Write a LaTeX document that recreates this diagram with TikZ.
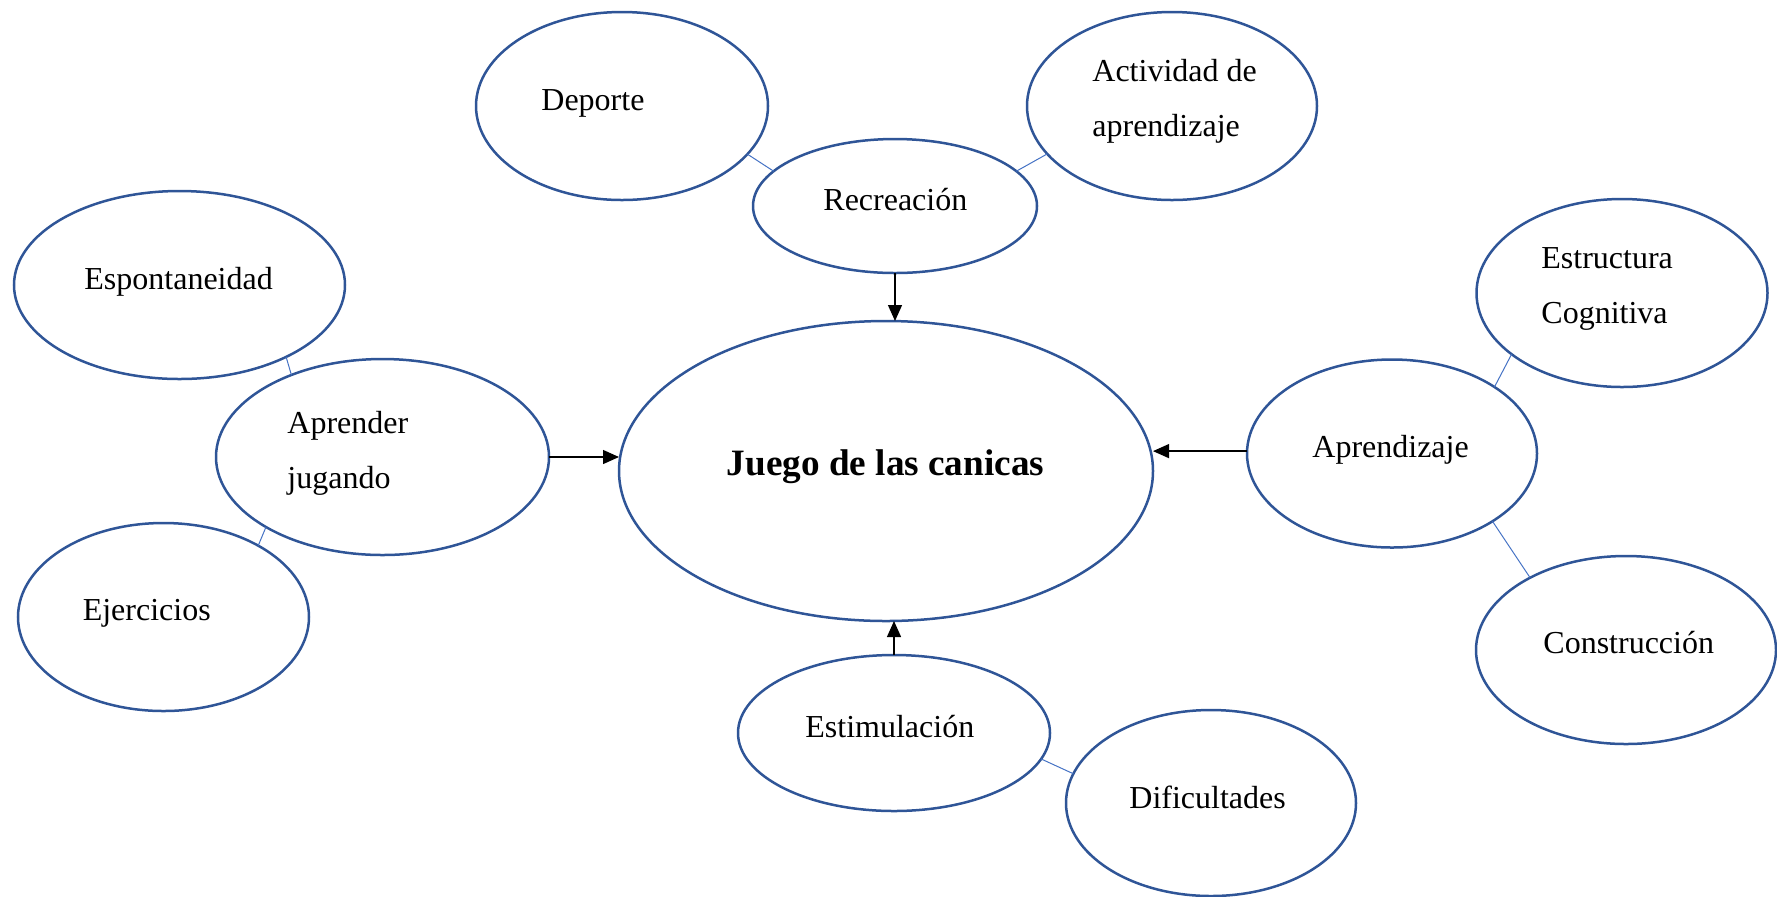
\documentclass[tikz,border=0pt]{standalone}
\usepackage{fontspec}
\setmainfont{Liberation Serif}
\usetikzlibrary{shapes.geometric,arrows.meta}
\definecolor{ellblue}{HTML}{2F5597}
\definecolor{linkblue}{HTML}{4472C4}
\begin{document}
\begin{tikzpicture}[x=0.5pt,y=-0.5pt,
  ell/.style={ellipse,draw=ellblue,line width=1.25pt,inner sep=0pt,outer sep=0pt},
  lbl/.style={anchor=base west,inner sep=0pt,font=\fontsize{16}{27.5}\selectfont},
  link/.style={draw=linkblue,line width=0.5pt},
  arr/.style={draw=black,line width=0.65pt,-{Triangle[length=8pt,width=7pt]}}]
\useasboundingbox (0,0) rectangle (1777,896);
% ellipses
\node[ell,minimum width=146pt,minimum height=94pt] (dep) at (622,106) {};
\node[ell,minimum width=142pt,minimum height=67pt] (rec) at (895,206) {};
\node[ell,minimum width=145pt,minimum height=94pt] (act) at (1172,106) {};
\node[ell,minimum width=165.5pt,minimum height=94pt] (esp) at (179.5,285) {};
\node[ell,minimum width=166.5pt,minimum height=98pt] (apj) at (382.5,457) {};
\node[ell,minimum width=145.5pt,minimum height=94pt] (eje) at (163.5,617) {};
\node[ell,minimum width=267pt,minimum height=150pt] (cen) at (886,471) {};
\node[ell,minimum width=145pt,minimum height=94pt] (apr) at (1392,453.5) {};
\node[ell,minimum width=145.5pt,minimum height=94pt] (estr) at (1622,293) {};
\node[ell,minimum width=150pt,minimum height=94pt] (con) at (1626,650) {};
\node[ell,minimum width=156pt,minimum height=78pt] (estm) at (894,733) {};
\node[ell,minimum width=145pt,minimum height=93pt] (dif) at (1211,803) {};
% labels
\node[lbl] (tdep) at (541,110) {Deporte};
\node[lbl] (trec) at (823,210) {Recreación};
\node[lbl,align=left,anchor=north west] (tact) at (1092,59) {Actividad de\\aprendizaje};
\node[lbl] (tesp) at (84,289) {Espontaneidad};
\node[lbl,align=left,anchor=north west] (tapj) at (287,411) {Aprender\\jugando};
\node[lbl] (teje) at (82.4,620.5) {Ejercicios};
\node[lbl,font=\fontsize{18.6}{22}\selectfont\bfseries] (tcen) at (726.5,475) {Juego de las canicas};
\node[lbl] (tapr) at (1312,457.5) {Aprendizaje};
\node[lbl,align=left,anchor=north west] (testr) at (1541,247) {Estructura\\Cognitiva};
\node[lbl] (tcon) at (1543,653.5) {Construcción};
\node[lbl] (testm) at (805,737) {Estimulación};
\node[lbl] (tdif) at (1129,808.5) {Dificultades};
% thin links
\draw[link] (dep.-21) -- (rec.164.5);
\draw[link] (rec.16.4) -- (act.201);
\draw[link] (esp.-34.6) -- (apj.138.2);
\draw[link] (apj.211.6) -- (eje.37.1);
\draw[link] (apr.33.7) -- (estr.209.6);
\draw[link] (apr.-34) -- (con.143.3);
\draw[link] (estm.-10.2) -- (dif.168.7);
% arrows
\draw[arr] (rec.south) -- (rec.south |- cen.north);
\draw[arr] (apj.east) -- (apj.east -| cen.west);
\draw[arr] ([yshift=1.2pt]apr.west) -- ([yshift=1.2pt]apr.west -| cen.east);
\draw[arr] (estm.north) -- (estm.north |- cen.south);
\end{tikzpicture}
\end{document}
